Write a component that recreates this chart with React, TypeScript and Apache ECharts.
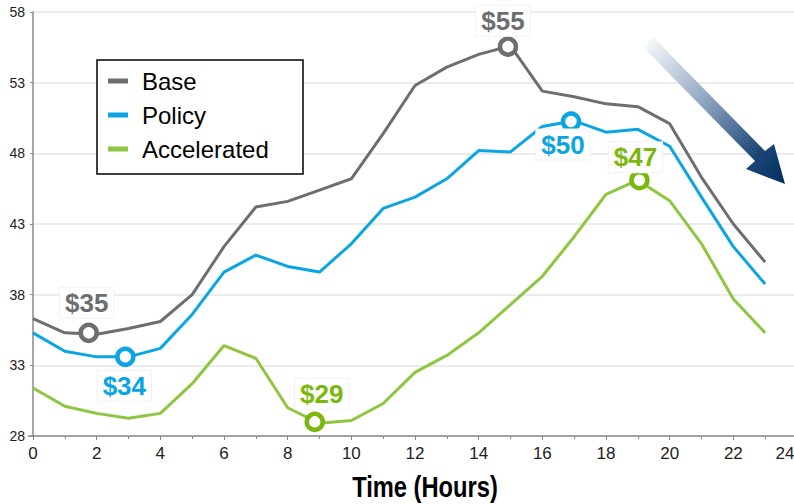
import React, { useEffect, useRef } from "react";
import * as echarts from "echarts";

const hours = Array.from({ length: 24 }, (_, i) => i);
const base = [36.3, 35.3, 35.2, 35.6, 36.1, 38.0, 41.4, 44.2, 44.6, 45.4, 46.2, 49.4, 52.8, 54.1, 55.0, 55.6, 52.4, 52.0, 51.5, 51.3, 50.1, 46.3, 43.0, 40.3];
const policy = [35.3, 34.0, 33.6, 33.6, 34.2, 36.6, 39.6, 40.8, 40.0, 39.6, 41.6, 44.1, 44.9, 46.2, 48.2, 48.1, 49.9, 50.3, 49.5, 49.7, 48.5, 44.9, 41.4, 38.75];
const accelerated = [31.4, 30.1, 29.6, 29.25, 29.6, 31.7, 34.4, 33.5, 30.0, 28.9, 29.1, 30.3, 32.5, 33.7, 35.3, 37.3, 39.3, 42.1, 45.1, 46.1, 44.65, 41.6, 37.7, 35.3];

const seriesNames = ["Base", "Policy", "Accelerated"];
// callout points: [hour, value]
const callouts = {
  Base: [[1.75, 35.3], [14.92, 55.55]],
  Policy: [[2.9, 33.6], [16.9, 50.25]],
  Accelerated: [[8.85, 29.0], [19.05, 46.1]],
};
const calloutLabels = {
  Base: ["$35", "$55"],
  Policy: ["$34", "$50"],
  Accelerated: ["$29", "$47"],
};
const calloutOffsets = {
  Base: [[-2, -30], [-5, -26]],
  Policy: [[-1, 29], [-8, 23]],
  Accelerated: [[7, -28], [-4, -23]],
};
const yTicks = { min: 28, max: 58, interval: 5 };
const xTicks = { min: 0, max: 24, interval: 2 };

const FONT = "'Liberation Sans', Arial, sans-serif";
const lineColors = { Base: "#6d6e71", Policy: "#0aa5e2", Accelerated: "#8dc63f" };
const markColors = { Base: "#6d6e71", Policy: "#0aa5e2", Accelerated: "#7ab80e" };

export default function App() {
  const ref = useRef<HTMLDivElement>(null);
  useEffect(() => {
    document.body.style.margin = "0";
    const chart = echarts.init(ref.current!, null, { renderer: "svg" });
    const dataMap: Record<string, number[]> = { Base: base, Policy: policy, Accelerated: accelerated };

    const lineSeries = seriesNames.map((n) => ({
      name: n,
      type: "line",
      data: hours.map((h, i) => [h, dataMap[n][i]]),
      showSymbol: false,
      symbol: "none",
      lineStyle: { color: lineColors[n], width: 3 },
      itemStyle: { color: lineColors[n] },
      z: 3,
    }));

    const markerSeries = seriesNames.map((n) => ({
      name: n + "-callouts",
      type: "scatter",
      data: callouts[n].map((p: number[], i: number) => ({
        value: p,
        label: {
          show: true,
          position: "inside",
          offset: calloutOffsets[n][i],
          formatter: calloutLabels[n][i],
          color: markColors[n],
          opacity: 1,
          fontFamily: FONT,
          fontWeight: "bold",
          fontSize: 26,
          backgroundColor: "#ffffff",
          borderColor: "#f2f2f2",
          borderWidth: 1,
          padding: [2, 5],
        },
      })),
      symbol: "circle",
      symbolSize: 16,
      itemStyle: { color: "#ffffff", borderColor: markColors[n], borderWidth: 4.5, opacity: 1 },
      emphasis: { disabled: true },
      z: 5,
    }));

    chart.setOption({
      animation: false,
      backgroundColor: "#ffffff",
      grid: { left: 33, top: 12, width: 764, height: 424, containLabel: false, outerBoundsMode: "none" },
      xAxis: {
        type: "value",
        min: xTicks.min,
        max: xTicks.max,
        interval: xTicks.interval,
        axisLine: { show: true, lineStyle: { color: "#8a8a8a", width: 1.5 } },
        axisTick: { show: true, length: 4, lineStyle: { color: "#8a8a8a" } },
        minorTick: { show: true, splitNumber: 2, length: 3, lineStyle: { color: "#8a8a8a" } },
        axisLabel: {
          color: "#222",
          fontFamily: FONT,
          fontSize: 17,
          margin: 9,
          formatter: (v: number) => (v === xTicks.max ? "{r|" + v + "}" : String(v)),
          rich: { r: { color: "#222", fontFamily: FONT, fontSize: 17, padding: [0, 24, 0, 0] } },
        },
        splitLine: { show: false },
      },
      yAxis: {
        type: "value",
        min: yTicks.min,
        max: yTicks.max,
        interval: yTicks.interval,
        offset: 4,
        axisLine: { show: true, lineStyle: { color: "#8a8a8a", width: 1.5 } },
        axisTick: { show: true, length: 3, lineStyle: { color: "#8a8a8a" } },
        axisLabel: { color: "#222", fontFamily: FONT, fontSize: 14, margin: 4 },
        splitLine: { show: true, lineStyle: { color: "#e6e6e6", width: 1.5 } },
      },
      legend: {
        data: seriesNames,
        orient: "vertical",
        left: 108,
        top: 67,
        icon: "rect",
        itemWidth: 20,
        itemHeight: 5,
        itemGap: 6,
        padding: 0,
        textStyle: { fontFamily: FONT, fontSize: 24, color: "#000", lineHeight: 28, padding: [0, 0, 0, 9] },
        z: 10,
      },
      graphic: [
        {
          type: "rect",
          shape: { x: 97, y: 60, width: 206, height: 114 },
          style: { fill: "#ffffff", stroke: "#000000", lineWidth: 1.5 },
          z: 8,
        },
        {
          type: "line",
          shape: { x1: 28, y1: 436, x2: 34, y2: 436 },
          style: { stroke: "#8a8a8a", lineWidth: 1.5 },
          z: 2,
        },
        {
          type: "polygon",
          shape: {
            points: [
              [643, 47], [653, 37], [765, 151], [774, 144], [785, 184], [746, 169], [755, 161],
            ],
          },
          style: {
            fill: {
              type: "linear",
              x: 0, y: 0, x2: 1, y2: 1,
              colorStops: [
                { offset: 0, color: "#ffffff" },
                { offset: 0.45, color: "#8aa2bf" },
                { offset: 0.8, color: "#1c4576" },
                { offset: 1, color: "#00305f" },
              ],
            },
          },
          z: 9,
        },
        {
          type: "text",
          x: 425,
          y: 487,
          scaleX: 0.79,
          style: {
            text: "Time (Hours)",
            fontFamily: FONT,
            fontWeight: "bold",
            fontSize: 30,
            fill: "#000",
            align: "center",
            verticalAlign: "middle",
          },
        },
      ],
      series: [...lineSeries, ...markerSeries],
    });
    return () => chart.dispose();
  }, []);
  return <div ref={ref} style={{ position: "fixed", left: 0, top: 0, width: 794, height: 504 }} />;
}
